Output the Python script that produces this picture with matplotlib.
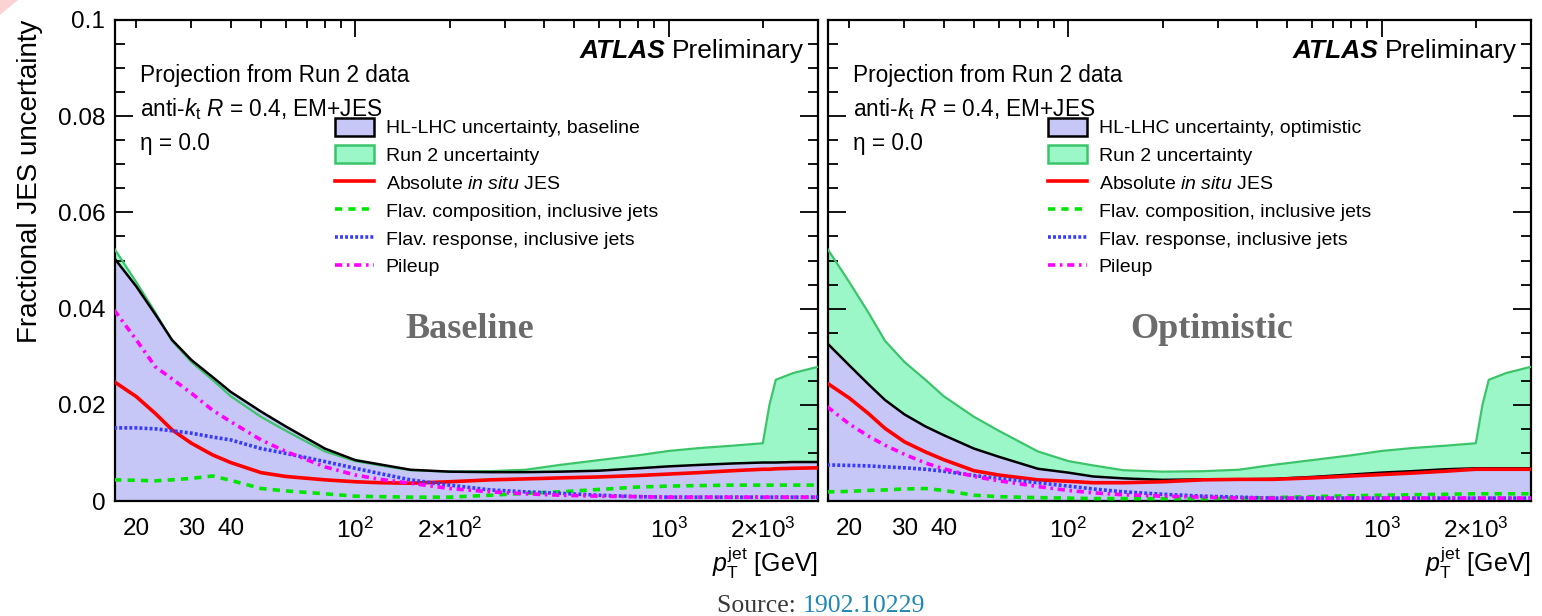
import matplotlib
matplotlib.use("Agg")
import matplotlib.pyplot as plt
from matplotlib.patches import Patch, Polygon
from matplotlib.lines import Line2D
from matplotlib.ticker import MultipleLocator

plt.rcParams['font.family'] = ['Liberation Sans', 'DejaVu Sans']
plt.rcParams['mathtext.fontset'] = 'custom'
plt.rcParams['mathtext.rm'] = 'Liberation Sans'
plt.rcParams['mathtext.it'] = 'Liberation Sans:italic'
plt.rcParams['mathtext.bf'] = 'Liberation Sans:bold'

# jet pT grid [GeV]
pt = [17, 20, 23, 26, 30, 35, 40, 50, 60, 80, 100, 120, 150, 200, 270, 350,
      450, 600, 800, 1000, 1250, 1600, 2000, 2100, 2200, 2500, 3000]

# Run 2 total uncertainty (same in both panels)
run2 = [0.0525, 0.0455, 0.0392, 0.0333, 0.0289, 0.0252, 0.0218, 0.0175, 0.0146,
        0.0103, 0.0083, 0.0074, 0.0064, 0.0061, 0.0062, 0.0065, 0.0075, 0.0085,
        0.0095, 0.0104, 0.0110, 0.0115, 0.0120, 0.0200, 0.0252, 0.0266, 0.0279]

# baseline scenario
hl_base = [0.0505, 0.0446, 0.0388, 0.0335, 0.0293, 0.0258, 0.0227, 0.0186, 0.0155,
           0.0109, 0.0085, 0.0076, 0.0065, 0.0061, 0.0060, 0.0060, 0.0061, 0.0063,
           0.0068, 0.0072, 0.0075, 0.0078, 0.0080, 0.0080, 0.0080, 0.0081, 0.0081]
abs_base = [0.0248, 0.0217, 0.0182, 0.0148, 0.0120, 0.0096, 0.0080, 0.0059, 0.0051,
            0.0044, 0.0040, 0.0038, 0.0037, 0.0040, 0.0044, 0.0046, 0.0048, 0.0050,
            0.0053, 0.0056, 0.0059, 0.0063, 0.0066, 0.0066, 0.0067, 0.0068, 0.0069]
comp_base = [0.0044, 0.0043, 0.0042, 0.0044, 0.0047, 0.0052, 0.0043, 0.0026, 0.0021,
             0.0015, 0.0010, 0.0009, 0.0008, 0.0008, 0.0012, 0.0016, 0.0019, 0.0024,
             0.0029, 0.0031, 0.0032, 0.0033, 0.0033, 0.0033, 0.0033, 0.0033, 0.0033]
resp_base = [0.0152, 0.0152, 0.0150, 0.0146, 0.0141, 0.0133, 0.0127, 0.0109, 0.0099,
             0.0082, 0.0068, 0.0057, 0.0044, 0.0033, 0.0023, 0.0019, 0.0016, 0.0012,
             0.0009, 0.0008, 0.0008, 0.0008, 0.0008, 0.0008, 0.0008, 0.0008, 0.0008]
pile_base = [0.0397, 0.0335, 0.0279, 0.0254, 0.0224, 0.0189, 0.0165, 0.0127, 0.0103,
             0.0071, 0.0054, 0.0045, 0.0037, 0.0026, 0.0019, 0.0015, 0.0012, 0.0010,
             0.0009, 0.0008, 0.0008, 0.0008, 0.0008, 0.0008, 0.0008, 0.0008, 0.0008]

# optimistic scenario
hl_opt = [0.0328, 0.0282, 0.0243, 0.0210, 0.0180, 0.0155, 0.0137, 0.0109, 0.0092,
          0.0067, 0.0059, 0.0051, 0.0047, 0.0044, 0.0045, 0.0045, 0.0046, 0.0050,
          0.0055, 0.0059, 0.0062, 0.0066, 0.0068, 0.0068, 0.0068, 0.0068, 0.0068]
abs_opt = [0.0245, 0.0214, 0.0182, 0.0151, 0.0123, 0.0102, 0.0086, 0.0063, 0.0054,
           0.0044, 0.0041, 0.0038, 0.0038, 0.0040, 0.0044, 0.0045, 0.0045, 0.0048,
           0.0052, 0.0055, 0.0058, 0.0062, 0.0066, 0.0066, 0.0066, 0.0066, 0.0066]
comp_opt = [0.0019, 0.0020, 0.0022, 0.0023, 0.0025, 0.0026, 0.0022, 0.0012, 0.0009,
            0.0007, 0.0006, 0.0005, 0.0005, 0.0005, 0.0005, 0.0006, 0.0007, 0.0009,
            0.0011, 0.0012, 0.0013, 0.0014, 0.0015, 0.0015, 0.0015, 0.0015, 0.0015]
resp_opt = [0.0075, 0.0074, 0.0073, 0.0071, 0.0069, 0.0066, 0.0062, 0.0053, 0.0047,
            0.0038, 0.0031, 0.0025, 0.0019, 0.0014, 0.0010, 0.0008, 0.0006, 0.0006,
            0.0006, 0.0006, 0.0006, 0.0006, 0.0006, 0.0006, 0.0006, 0.0006, 0.0006]
pile_opt = [0.0196, 0.0160, 0.0135, 0.0116, 0.0097, 0.0079, 0.0067, 0.0051, 0.0042,
            0.0030, 0.0022, 0.0017, 0.0013, 0.0010, 0.0008, 0.0006, 0.0006, 0.0006,
            0.0006, 0.0006, 0.0006, 0.0006, 0.0006, 0.0006, 0.0006, 0.0006, 0.0006]

y_ticks = [0, 0.02, 0.04, 0.06, 0.08, 0.1]
y_labels = ['0', '0.02', '0.04', '0.06', '0.08', '0.1']
x_major = [100, 1000]
x_major_labels = ['$10^{2}$', '$10^{3}$']
x_minor = [20, 30, 40, 50, 60, 70, 80, 90, 200, 300, 400, 500, 600, 700, 800, 900, 2000, 3000]
x_minor_labels = ['20', '30', '40', '', '', '', '', '', r'$2{\times}10^{2}$', '', '', '', '', '', '', '',
                  r'$2{\times}10^{3}$', '']

HL_FILL = '#c6c6f7'
RUN2_FILL = '#9cf7c8'
RUN2_EDGE = '#3cc46a'
RED = '#ff0000'
GREEN = '#00e600'
BLUE = '#3a3aff'
MAGENTA = '#ff00ff'

ls_comp = (0, (2.0, 1.7))
ls_resp = (0, (0.8, 0.6))
ls_pile = (0, (2.0, 1.3, 0.7, 1.3))

fig = plt.figure(figsize=(15.42, 6.16), dpi=100)
W, H = 1542, 616
ax1 = fig.add_axes([115 / W, 1 - 501 / H, 703 / W, 481 / H])
ax2 = fig.add_axes([828 / W, 1 - 501 / H, 703 / W, 481 / H])

# little pink corner at top left
fig.patches.append(Polygon([[0, 1], [18 / W, 1], [0, 1 - 15 / H]], closed=True,
                           transform=fig.transFigure, facecolor='#fbd3d3', edgecolor='none'))


def draw_panel(ax, hl, absol, comp, resp, pile, scenario, big_text, big_x, show_y):
    ax.fill_between(pt, 0, run2, color=RUN2_FILL, lw=0, zorder=1)
    ax.fill_between(pt, 0, hl, color=HL_FILL, lw=0, zorder=2)
    ax.plot(pt, run2, color=RUN2_EDGE, lw=1.6, zorder=3)
    ax.plot(pt, hl, color='black', lw=1.8, zorder=4)
    ax.plot(pt, absol, color=RED, lw=2.6, zorder=5)
    ax.plot(pt, comp, color=GREEN, lw=2.6, ls=ls_comp, zorder=5)
    ax.plot(pt, resp, color=BLUE, lw=2.6, ls=ls_resp, zorder=5)
    ax.plot(pt, pile, color=MAGENTA, lw=2.6, ls=ls_pile, zorder=6)

    ax.set_xscale('log')
    ax.set_xlim(17.1, 3000)
    ax.set_ylim(0, 0.1)
    ax.set_xticks(x_major)
    ax.set_xticklabels(x_major_labels)
    ax.set_xticks(x_minor, minor=True)
    ax.set_xticklabels(x_minor_labels, minor=True)
    ax.set_yticks(y_ticks)
    ax.yaxis.set_minor_locator(MultipleLocator(0.005))
    if show_y:
        ax.set_yticklabels(y_labels)
    else:
        ax.set_yticklabels([])
    ax.tick_params(which='both', direction='in', top=True, right=True, width=1.3,
                   labelsize=17.5)
    ax.tick_params(axis='y', which='major', length=13, pad=7)
    ax.tick_params(axis='y', which='minor', length=7)
    ax.tick_params(axis='x', which='major', length=12, pad=12)
    ax.tick_params(axis='x', which='minor', length=6, pad=12)
    for sp in ax.spines.values():
        sp.set_linewidth(1.6)

    ax.set_xlabel(r'$p_{\mathrm{T}}^{\mathrm{jet}}$ [GeV]', fontsize=18, loc='right')
    ax.xaxis.set_label_coords(1.0, -0.09)

    ax.text(0.036, 0.884, 'Projection from Run 2 data', transform=ax.transAxes,
            fontsize=16.3, va='center', ha='left')
    ax.text(0.036, 0.815, r'anti-$k_{\mathrm{t}}$ $R$ = 0.4, EM+JES', transform=ax.transAxes,
            fontsize=16.3, va='center', ha='left')
    ax.text(0.036, 0.744, 'η = 0.0', transform=ax.transAxes,
            fontsize=16.3, va='center', ha='left')
    prelim = ax.text(0.98, 0.936, 'Preliminary', transform=ax.transAxes,
                     fontsize=19, va='center', ha='right')
    ax.annotate('ATLAS', xy=(0, 0.5), xycoords=prelim, xytext=(-5, 0),
                textcoords='offset points', fontsize=19, ha='right', va='center',
                fontweight='bold', fontstyle='italic')

    ax.text(big_x, 0.356, big_text, transform=ax.transAxes, fontsize=26,
            family='Liberation Serif', fontweight='bold', color='#6b6b6b',
            ha='center', va='center', zorder=10)

    handles = [
        Patch(facecolor=HL_FILL, edgecolor='black', lw=1.8),
        Patch(facecolor=RUN2_FILL, edgecolor=RUN2_EDGE, lw=1.8),
        Line2D([], [], color=RED, lw=2.6),
        Line2D([], [], color=GREEN, lw=2.6, ls=ls_comp),
        Line2D([], [], color=BLUE, lw=2.6, ls=ls_resp),
        Line2D([], [], color=MAGENTA, lw=2.6, ls=ls_pile),
    ]
    labels = [
        'HL-LHC uncertainty, ' + scenario,
        'Run 2 uncertainty',
        r'Absolute $\mathit{in\ situ}$ JES',
        'Flav. composition, inclusive jets',
        'Flav. response, inclusive jets',
        'Pileup',
    ]
    ax.legend(handles, labels, loc='upper left', bbox_to_anchor=(0.313, 0.797),
              frameon=False, borderpad=0, borderaxespad=0, fontsize=14,
              handlelength=2.0, handleheight=1.05, handletextpad=0.6, labelspacing=0.42)


draw_panel(ax1, hl_base, abs_base, comp_base, resp_base, pile_base,
           'baseline', 'Baseline', 0.505, True)
draw_panel(ax2, hl_opt, abs_opt, comp_opt, resp_opt, pile_opt,
           'optimistic', 'Optimistic', 0.546, False)

fig.text(30 / W, 1 - 20 / H, 'Fractional JES uncertainty', rotation=90,
         fontsize=20, ha='center', va='top')

src = fig.text(717 / W, 0.006, 'Source: ', family='Liberation Serif', fontsize=18.5,
               color='#3a3a3a', ha='left', va='baseline')
fig.canvas.draw()
bb = src.get_window_extent()
fig.text(bb.x1 / W, 0.006, '1902.10229', family='Liberation Serif', fontsize=18.5,
         color='#1e87b4', ha='left', va='baseline')

fig.savefig('out.png', dpi=100)
